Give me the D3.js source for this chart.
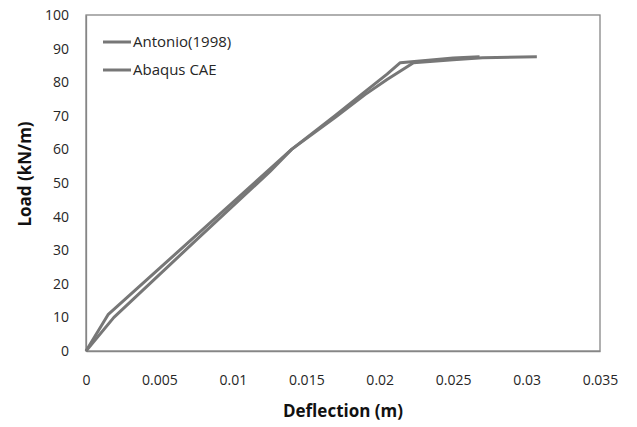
<!DOCTYPE html>
<html>
<head>
<meta charset="utf-8">
<script src="https://cdn.jsdelivr.net/npm/d3@7"></script>
<style>
  html, body { margin: 0; padding: 0; background: #fff; }
  svg { display: block; font-family: "Open Sans", "Liberation Sans", sans-serif; }
</style>
</head>
<body>
<svg id="chart" width="637" height="427"></svg>
<script>
// Load–deflection data (deflection in m, load in kN/m)
const seriesNames = ["Antonio(1998)", "Abaqus CAE"];
const antonioDeflection = [0, 0.0015, 0.005, 0.010, 0.014, 0.017, 0.019, 0.0205, 0.0214, 0.0235, 0.025, 0.0268];
const antonioLoad       = [0, 10.8, 24.6, 44.2, 60.0, 70.2, 77.2, 82.4, 85.8, 86.6, 87.2, 87.6];
const abaqusDeflection  = [0, 0.0019, 0.0075, 0.0125, 0.014, 0.017, 0.019, 0.0205, 0.0223, 0.025, 0.027, 0.0307];
const abaqusLoad        = [0, 10.0, 33.0, 53.3, 60.0, 69.6, 76.3, 80.8, 85.8, 86.7, 87.3, 87.6];
const xTicks = [0, 0.005, 0.01, 0.015, 0.02, 0.025, 0.03, 0.035];
const yTicks = [0, 10, 20, 30, 40, 50, 60, 70, 80, 90, 100];

const series = [
  { name: seriesNames[0], x: antonioDeflection, y: antonioLoad },
  { name: seriesNames[1], x: abaqusDeflection, y: abaqusLoad }
];

const svg = d3.select("#chart");
const plot = { left: 86, right: 600, top: 15, bottom: 351 };

const x = d3.scaleLinear().domain([0, 0.035]).range([plot.left, plot.right]);
const y = d3.scaleLinear().domain([0, 100]).range([plot.bottom, plot.top]);

const axisColor = "#868686";
const lineColor = "#777777";
const textColor = "#262626";

// Plot frame
svg.append("rect")
  .attr("x", plot.left).attr("y", plot.top)
  .attr("width", plot.right - plot.left).attr("height", plot.bottom - plot.top)
  .attr("fill", "none").attr("stroke", axisColor).attr("stroke-width", 1.3);

// Axes (labels only, no tick marks)
const xAxis = svg.append("g")
  .attr("transform", `translate(0,${plot.bottom})`)
  .call(d3.axisBottom(x).tickValues(xTicks).tickSize(0).tickPadding(24)
    .tickFormat(d => d === 0 ? "0" : d3.format("")(+d.toFixed(3))));
xAxis.select(".domain").attr("stroke", axisColor).attr("stroke-width", 1.3);
xAxis.selectAll("text").attr("fill", textColor).style("font-size", "14px")
  .style("font-family", "'Open Sans', sans-serif");

const yAxis = svg.append("g")
  .attr("transform", `translate(${plot.left},0)`)
  .call(d3.axisLeft(y).tickValues(yTicks).tickSize(0).tickPadding(17));
yAxis.select(".domain").attr("stroke", axisColor).attr("stroke-width", 1.3);
yAxis.selectAll("text").attr("fill", textColor).style("font-size", "14px")
  .style("font-family", "'Open Sans', sans-serif");

// Curves
const line = d3.line().x(d => x(d[0])).y(d => y(d[1]));
series.forEach(s => {
  svg.append("path")
    .datum(s.x.map((v, i) => [v, s.y[i]]))
    .attr("d", line)
    .attr("fill", "none")
    .attr("stroke", lineColor)
    .attr("stroke-width", 3)
    .attr("stroke-linejoin", "round");
});

// Legend
const legend = svg.append("g");
series.forEach((s, i) => {
  const ly = 42 + i * 28;
  legend.append("line")
    .attr("x1", 103).attr("x2", 131).attr("y1", ly).attr("y2", ly)
    .attr("stroke", lineColor).attr("stroke-width", 3);
  legend.append("text")
    .attr("x", 133).attr("y", ly + 5)
    .attr("fill", textColor)
    .style("font-size", "15px")
    .text(s.name);
});

// Axis titles
svg.append("text")
  .attr("x", (plot.left + plot.right) / 2).attr("y", 417)
  .attr("text-anchor", "middle")
  .attr("fill", "#111")
  .style("font-size", "17px").style("font-weight", "bold")
  .text("Deflection (m)");

svg.append("text")
  .attr("transform", `translate(31,174) rotate(-90)`)
  .attr("text-anchor", "middle")
  .attr("fill", "#111")
  .style("font-size", "17px").style("font-weight", "bold")
  .text("Load (kN/m)");
</script>
</body>
</html>
